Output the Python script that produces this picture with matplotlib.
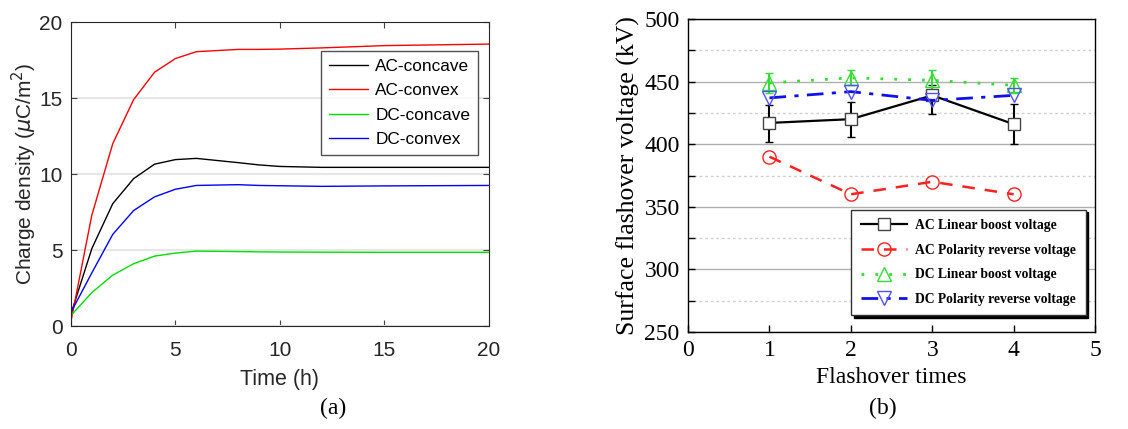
import numpy as np
import matplotlib
matplotlib.use('Agg')
import matplotlib.pyplot as plt
from matplotlib.ticker import MultipleLocator

# (a) charge density vs time
t = [0, 1, 2, 3, 4, 5, 6, 8, 9, 10, 12, 15, 20]
ac_concave = [0.8, 5.1, 8.05, 9.7, 10.65, 10.95, 11.03, 10.75, 10.6, 10.5, 10.44, 10.44, 10.44]
ac_convex = [0.3, 7.3, 12.0, 14.9, 16.7, 17.6, 18.05, 18.2, 18.2, 18.22, 18.3, 18.45, 18.55]
dc_concave = [0.7, 2.2, 3.35, 4.1, 4.6, 4.8, 4.93, 4.9, 4.88, 4.87, 4.86, 4.85, 4.85]
dc_convex = [0.9, 3.5, 6.03, 7.6, 8.5, 9.0, 9.25, 9.3, 9.25, 9.23, 9.19, 9.22, 9.25]

# (b) flashover voltage
n = [1, 2, 3, 4]
ac_linear = [417, 420, 439, 416]
ac_linear_lo = [15, 14, 15, 16]
ac_linear_hi = [14, 14, 8, 16]
ac_polarity = [390, 360, 370, 360]
dc_linear = [449, 453, 451, 447]
dc_linear_err = [8, 6, 8, 6]
dc_polarity = [437, 442, 435, 439]

fig = plt.figure(figsize=(11.28, 4.29), dpi=100)

# ---------------- left panel
sans = ['Liberation Sans', 'DejaVu Sans']
ax = fig.add_axes([0.0629, 0.240, 0.3706, 0.7086])
ax.plot(t, ac_concave, color='black', lw=1, label='AC-concave')
ax.plot(t, ac_convex, color='#ff0000', lw=1, label='AC-convex')
ax.plot(t, dc_concave, color='#00e000', lw=1, label='DC-concave')
ax.plot(t, dc_convex, color='#0000ff', lw=1, label='DC-convex')
ax.set_xlim(0, 20)
ax.set_ylim(0, 20)
ax.set_xticks([0, 5, 10, 15, 20])
ax.set_yticks([0, 5, 10, 15, 20])
ax.yaxis.grid(True, color='#e6e6e6', lw=1.5)
ax.set_axisbelow(True)
ax.tick_params(direction='in', top=True, right=True, length=4, color='#404040',
               labelsize=15, labelcolor='#262626')
ax.tick_params(axis='x', pad=11)
ax.tick_params(axis='y', pad=6)
for lab in ax.get_xticklabels() + ax.get_yticklabels():
    lab.set_family(sans)
for s in ax.spines.values():
    s.set_color('#262626')
ax.set_xlabel('Time (h)', fontsize=15.5, family=sans, color='#262626', labelpad=6)
ax.set_ylabel(r'Charge density ($\mu$C/m$^2$)', fontsize=15, family=sans, color='#262626',
              labelpad=0)
leg = ax.legend(loc='upper right', bbox_to_anchor=(0.974, 0.905), fancybox=False,
                borderaxespad=0, prop={'family': sans, 'size': 12.4}, handlelength=2.3,
                labelspacing=0.55, borderpad=0.45, handletextpad=0.4)
leg.get_frame().set_edgecolor('#262626')
leg.get_frame().set_linewidth(1)
fig.text(0.295, 0.035, '(a)', fontsize=17, family='Liberation Serif', ha='center')

# ---------------- right panel
serif = ['Liberation Serif', 'DejaVu Serif']
bx = fig.add_axes([0.610, 0.2261, 0.3608, 0.7296])
bx.errorbar(n, ac_linear, yerr=[ac_linear_lo, ac_linear_hi], fmt='none', ecolor='black',
            capsize=3, elinewidth=1.5, zorder=2)
bx.errorbar(n, dc_linear, yerr=dc_linear_err, fmt='none', ecolor='#33dd33',
            capsize=3, elinewidth=1.5, zorder=2)
h1, = bx.plot(n, ac_linear, color='black', lw=1.6, marker='s', ms=8, mfc='white',
              mec='#444444', mew=1, zorder=3)
h2, = bx.plot(n, ac_polarity, color='#ff2020', lw=1.8, ls=(0, (5, 4)), marker='o', ms=9.5,
              mfc='none', mec='#ff2020', mew=1, zorder=3)
h3, = bx.plot(n, dc_linear, color='#33dd33', lw=2, ls=(0, (1, 4)), marker='^', ms=10,
              mfc='none', mec='#33dd33', mew=1, zorder=3)
h4, = bx.plot(n, dc_polarity, color='#1010ee', lw=2, ls=(0, (6, 3, 1.5, 3)), marker='v', ms=10,
              mfc='none', mec='#5050ff', mew=1, zorder=3)
bx.set_xlim(0, 5)
bx.set_ylim(250, 500)
bx.xaxis.set_major_locator(MultipleLocator(1))
bx.yaxis.set_major_locator(MultipleLocator(50))
bx.yaxis.set_minor_locator(MultipleLocator(25))
bx.yaxis.grid(True, which='major', color='#b0b0b0', lw=1)
bx.yaxis.grid(True, which='minor', color='#d0d0d0', lw=1, ls=(0, (2, 2)))
bx.set_axisbelow(True)
bx.tick_params(which='both', direction='in', length=5, width=1, labelsize=17, pad=6)
for lab in bx.get_xticklabels() + bx.get_yticklabels():
    lab.set_family(serif)
bx.set_xlabel('Flashover times', fontsize=17, family=serif, labelpad=4)
bx.set_ylabel('Surface flashover voltage (kV)', fontsize=18.5, family=serif, labelpad=3)
for s in bx.spines.values():
    s.set_linewidth(1)
leg2 = bx.legend([h1, h2, h3, h4],
                 ['AC Linear boost voltage', 'AC Polarity reverse voltage',
                  'DC Linear boost voltage', 'DC Polarity reverse voltage'],
                 loc='lower right', bbox_to_anchor=(0.977, 0.053), borderaxespad=0,
                 fancybox=False, shadow={'color': 'black', 'alpha': 1},
                 prop={'family': serif, 'size': 9.8, 'weight': 'bold'},
                 handlelength=3.4, labelspacing=0.85, borderpad=0.7, handletextpad=0.6,
                 framealpha=1)
leg2.get_frame().set_edgecolor('#333333')
leg2.get_frame().set_linewidth(1)
fig.text(0.783, 0.035, '(b)', fontsize=17, family='Liberation Serif', ha='center')

plt.savefig('out.png', dpi=100)
